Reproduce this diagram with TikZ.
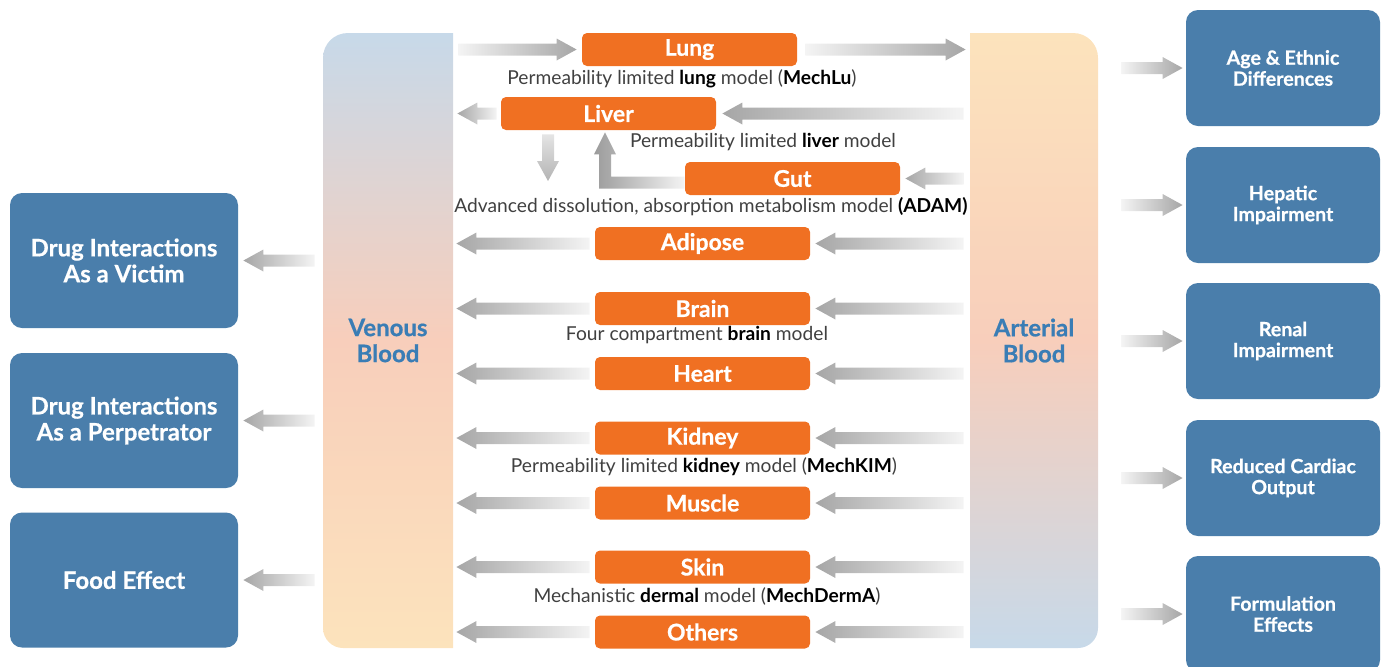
\documentclass[tikz,border=0pt]{standalone}
\usepackage{fontspec}
\setmainfont{Lato}
\newfontfamily\heavy[BoldFeatures={FakeBold=0.6}]{Lato}
\usetikzlibrary{calc}
\definecolor{org}{HTML}{F07022}
\definecolor{bbox}{HTML}{4A7EAB}
\definecolor{btext}{HTML}{3A7DB5}
\definecolor{alight}{HTML}{F4F4F4}
\definecolor{adark}{HTML}{A6A6A6}
\definecolor{vtop}{HTML}{C7D9E9}
\definecolor{vmid}{HTML}{F8CEBB}
\definecolor{vbot}{HTML}{FCE3BC}
\definecolor{anno}{HTML}{404040}
\newcommand\bk[1]{\textbf{\color{black}#1}}
% horizontal block arrow: #1 style, #2 tail, #3 head
\newcommand\harr[3][]{%
  \path[#1] let \p1=#2, \p2=#3, \n1={sign(\x2-\x1)} in
    (\x1,\y1+3pt) -- (\x2-\n1*10pt,\y1+3pt) -- (\x2-\n1*10pt,\y1+5.5pt) --
    (\x2,\y1) -- (\x2-\n1*10pt,\y1-5.5pt) -- (\x2-\n1*10pt,\y1-3pt) --
    (\x1,\y1-3pt) -- cycle;}
\begin{document}
\begin{tikzpicture}[x=0.5pt,y=-0.5pt,
  organ/.style={fill=org, rounded corners=2.5pt, minimum width=107.5pt,
    minimum height=16.5pt, inner sep=0pt, text=white,
    font=\heavy\bfseries\fontsize{11.5}{13}\selectfont},
  annot/.style={text=anno, inner sep=0pt, font=\fontsize{9.6}{11}\selectfont},
  lbox/.style={fill=bbox, rounded corners=6pt, minimum width=114pt,
    minimum height=67.5pt, inner sep=0pt, text=white, align=center,
    font=\heavy\bfseries\fontsize{12}{13}\selectfont},
  rbox/.style={fill=bbox, rounded corners=6pt, minimum width=97pt,
    minimum height=58pt, inner sep=0pt, text=white, align=center,
    font=\heavy\bfseries\fontsize{9.8}{10.5}\selectfont},
  blood/.style={text=btext, align=center, inner sep=0pt, minimum width=65pt,
    minimum height=307.5pt, font=\heavy\bfseries\fontsize{12}{13}\selectfont},
  rarrow/.style={left color=alight, right color=adark},
  larrow/.style={left color=adark, right color=alight}]
\useasboundingbox (0,0) rectangle (1384,666);
\clip (0,0) rectangle (1384,666);

% blood bars
\shade[top color=vtop, bottom color=vbot, middle color=vmid]
  (453,33) -- (348,33) .. controls (334,33) and (323,44) .. (323,58)
  -- (323,628) .. controls (323,639) and (332,648) .. (343,648)
  -- (453,648) -- cycle;
\shade[top color=vbot, bottom color=vtop, middle color=vmid]
  (970,33) -- (1073,33) .. controls (1087,33) and (1098,44) .. (1098,58)
  -- (1098,628) .. controls (1098,639) and (1089,648) .. (1078,648)
  -- (970,648) -- cycle;
\node[blood] (ven) at (388,340.5) {Venous\\Blood};
\node[blood] (art) at (1034,340.5) {Arterial\\Blood};

% organs
\node[organ] (lung)   at (689.5,49.5) {Lung};
\node[organ] (liver)  at (608.5,113.5) {Liver};
\node[organ] (gut)    at (792.5,178.5) {Gut};
\node[organ] (adip)   at (702.5,243.5) {Adipose};
\node[organ] (brain)  at (702.5,308.5) {Brain};
\node[organ] (heart)  at (702.5,373.5) {Heart};
\node[organ] (kidney) at (702.5,438) {Kidney};
\node[organ] (muscle) at (702.5,503) {Muscle};
\node[organ] (skin)   at (702.5,567) {Skin};
\node[organ] (others) at (702.5,632) {Others};

% annotations
\node[annot] (lunglab)  at (682,79)  {Permeability limited \bk{lung} model (\bk{MechLu})};
\node[annot] (liverlab) at (763,142) {Permeability limited \bk{liver} model};
\node[annot] (gutlab)   at (711,207) {Advanced dissolution, absorption metabolism model \bk{(ADAM)}};
\node[annot] (brainlab) at (697,335) {Four compartment \bk{brain} model};
\node[annot] (kidlab)   at (704,467) {Permeability limited \bk{kidney} model (\bk{MechKIM})};
\node[annot] (skinlab)  at (707,596) {Mechanistic \bk{dermal} model (\bk{MechDermA})};

% left boxes
\node[lbox] (dv) at (124,260.5) {Drug Interactions\\As a Victim};
\node[lbox] (dp) at (124,420.5) {Drug Interactions\\As a Perpetrator};
\node[lbox] (fe) at (124,580)   {Food Effect};

% right boxes
\node[rbox] (age)  at (1283,68)  {Age \& Ethnic\\Differences};
\node[rbox] (hep)  at (1283,205) {Hepatic\\Impairment};
\node[rbox] (ren)  at (1283,341) {Renal\\Impairment};
\node[rbox] (card) at (1283,478) {Reduced Cardiac\\Output};
\node[rbox] (form) at (1283,614) {Formulation\\Effects};

% lung arrows
\harr[rarrow]{($(ven.east |- lung)+(5,0)$)}{($(lung.west)+(-5,0)$)}
\harr[rarrow]{($(lung.east)+(8,0)$)}{($(art.west |- lung)+(-3,0)$)}
% liver / gut arrows
\harr[larrow]{($(art.west |- liver)+(-5,0)$)}{($(liver.east)+(6,0)$)}
\harr[larrow]{($(liver.west)+(-4,0)$)}{($(ven.east |- liver)+(4,0)$)}
\harr[larrow]{($(art.west |- gut)+(-5,0)$)}{($(gut.east)+(5,0)$)}
% other organs
\foreach \o in {adip,brain,heart,kidney,muscle,skin,others}{
  \harr[larrow]{($(art.west |- \o)+(-5,0)$)}{($(\o.east)+(5,0)$)}
  \harr[larrow]{($(\o.west)+(-5,0)$)}{($(ven.east |- \o)+(3,0)$)}
}
% gut -> liver elbow
\path[left color=adark!90!black!95, right color=alight]
  let \p1=(gut.west), \p2=($(liver.south)+(-3.5,0)$) in
  (\x1,\y1+1pt) -- (\x2+3pt,\y1+1pt) -- (\x2+3pt,\y2-12pt) -- (\x2+5.5pt,\y2-12pt)
  -- (\x2,\y2-1pt) -- (\x2-5.5pt,\y2-12pt) -- (\x2-3pt,\y2-12pt)
  -- (\x2-3pt,\y1-5pt) -- (\x1,\y1-5pt) -- cycle;
% liver down arrow
\coordinate (dvend) at (548,181);
\path[top color=alight!80!adark, bottom color=adark!85]
  let \p1=($(liver.south)+(-60.5,4)$), \p2=(dvend) in
  (\x1-3pt,\y1) -- (\x1+3pt,\y1) -- (\x1+3pt,\y2+10pt) -- (\x1+5.5pt,\y2+10pt)
  -- (\x1,\y2) -- (\x1-5.5pt,\y2+10pt) -- (\x1-3pt,\y2+10pt) -- cycle;

% venous -> left boxes
\foreach \b in {dv,dp,fe}{
  \harr[larrow]{($(ven.west |- \b)+(-8,0)$)}{($(\b.east)+(5,0)$)}
}
% arterial -> right boxes
\foreach \b in {age,hep,ren,card,form}{
  \harr[rarrow]{($(art.east |- \b)+(22,0)$)}{($(\b.west)+(-3,0)$)}
}
\end{tikzpicture}
\end{document}
